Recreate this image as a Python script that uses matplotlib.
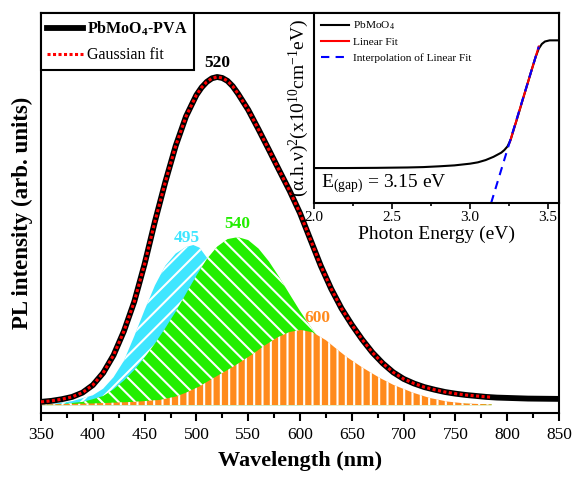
import matplotlib
matplotlib.use("Agg")
import matplotlib.pyplot as plt

# ---------------------------------------------------------------------------
# data
# ---------------------------------------------------------------------------
# PL spectrum of PbMoO4-PVA (arb. units, peak = 1)
plWl = [350, 360, 370, 380, 390, 400, 410, 420, 430, 440, 450, 460, 470, 480,
        490, 500, 505, 510, 515, 520, 525, 530, 535, 540, 550, 560, 570, 580,
        590, 600, 610, 620, 630, 640, 650, 660, 670, 680, 690, 700, 710, 720,
        730, 740, 750, 760, 770, 780, 790, 800, 820, 850]
plVal = [0.010, 0.013, 0.018, 0.025, 0.038, 0.061, 0.098, 0.152, 0.225, 0.315,
         0.43, 0.56, 0.68, 0.79, 0.88, 0.945, 0.968, 0.985, 0.996, 1.0, 0.997,
         0.988, 0.972, 0.95, 0.9, 0.84, 0.778, 0.715, 0.653, 0.585, 0.505,
         0.425, 0.355, 0.295, 0.245, 0.2, 0.16, 0.127, 0.1, 0.08, 0.066,
         0.055, 0.047, 0.04, 0.035, 0.031, 0.028, 0.025, 0.023, 0.022, 0.020,
         0.019]

# Gaussian fit (overlays the spectrum, ends at 785 nm)
fitWl = [350, 360, 370, 380, 390, 400, 410, 420, 430, 440, 450, 460, 470, 480,
         490, 500, 505, 510, 515, 520, 525, 530, 535, 540, 550, 560, 570, 580,
         590, 600, 610, 620, 630, 640, 650, 660, 670, 680, 690, 700, 710, 720,
         730, 740, 750, 760, 770, 785]
fitVal = [0.010, 0.013, 0.018, 0.025, 0.038, 0.061, 0.098, 0.152, 0.225, 0.315,
          0.43, 0.56, 0.68, 0.79, 0.88, 0.945, 0.968, 0.985, 0.996, 1.0, 0.997,
          0.988, 0.972, 0.95, 0.9, 0.84, 0.778, 0.715, 0.653, 0.585, 0.505,
          0.425, 0.355, 0.295, 0.245, 0.2, 0.16, 0.127, 0.1, 0.08, 0.066,
          0.055, 0.047, 0.04, 0.035, 0.031, 0.028, 0.024]

# Gaussian components
cyanWl = [350, 360, 380, 400, 410, 420, 430, 440, 450, 460, 470, 480, 490,
          497, 503, 510, 520, 530, 540, 550, 560, 580, 600]
cyanVal = [0.0, 0.003, 0.012, 0.03, 0.05, 0.085, 0.135, 0.21, 0.29, 0.365,
           0.425, 0.462, 0.482, 0.488, 0.48, 0.45, 0.37, 0.27, 0.17, 0.1,
           0.05, 0.01, 0.0]

greenWl = [350, 370, 390, 400, 410, 420, 430, 440, 450, 460, 470, 480, 490,
           500, 510, 520, 530, 540, 550, 560, 570, 580, 590, 600, 610, 620,
           640, 660, 680, 700, 730, 760, 785]
greenVal = [0.0, 0.003, 0.01, 0.018, 0.028, 0.048, 0.075, 0.107, 0.145,
            0.188, 0.235, 0.285, 0.34, 0.395, 0.445, 0.483, 0.506, 0.512,
            0.503, 0.477, 0.438, 0.39, 0.338, 0.287, 0.24, 0.196, 0.125,
            0.075, 0.043, 0.024, 0.01, 0.004, 0.002]

orangeWl = [350, 400, 440, 465, 480, 490, 503, 515, 530, 540, 555, 565, 578,
            590, 601, 612, 625, 635, 645, 660, 677, 690, 709, 725, 742, 760,
            785]
orangeVal = [0.002, 0.005, 0.01, 0.016, 0.026, 0.038, 0.057, 0.08, 0.107,
             0.126, 0.157, 0.18, 0.206, 0.223, 0.229, 0.222, 0.198, 0.172,
             0.147, 0.115, 0.083, 0.062, 0.038, 0.022, 0.011, 0.005, 0.002]

# peak labels: text, position (nm, value)
peakText = ["520", "495", "540", "600"]
peakWl = [520, 491, 539, 617]
peakVal = [1.043, 0.51, 0.552, 0.265]

# inset: Tauc plot
tEnergy = [2.0, 2.2, 2.4, 2.6, 2.7, 2.8, 2.9, 3.0, 3.05, 3.1, 3.15, 3.2,
           3.22, 3.24, 3.26, 3.28, 3.3, 3.35, 3.4, 3.42, 3.44, 3.46, 3.48,
           3.51, 3.57]
tVal = [0.184, 0.184, 0.185, 0.187, 0.189, 0.193, 0.198, 0.207, 0.214,
        0.226, 0.243, 0.265, 0.279, 0.298, 0.333, 0.387, 0.44, 0.578, 0.715,
        0.768, 0.812, 0.837, 0.85, 0.856, 0.856]
linFitE = [3.255, 3.44]
linFitVal = [0.32, 0.823]
interpE = [3.135, 3.44]
interpVal = [0.0, 0.823]

cyanCol = "#3fe6ff"
greenCol = "#22ee00"
orangeCol = "#ff8a1c"

# ---------------------------------------------------------------------------
# style
# ---------------------------------------------------------------------------
plt.rcParams["font.family"] = ["Liberation Serif", "DejaVu Serif"]
plt.rcParams["mathtext.fontset"] = "custom"
plt.rcParams["mathtext.rm"] = "Liberation Serif"
plt.rcParams["mathtext.default"] = "regular"
plt.rcParams["hatch.linewidth"] = 1.5

fig = plt.figure(figsize=(5.75, 4.83), dpi=100)
ax = fig.add_axes([0.0713, 0.1449, 0.9009, 0.8282])

# components
ax.fill_between(cyanWl, cyanVal, 0, facecolor=cyanCol, edgecolor="white",
                hatch="//", linewidth=0, zorder=1)
ax.fill_between(greenWl, greenVal, 0, facecolor=greenCol, edgecolor="white",
                hatch="\\\\", linewidth=0, zorder=2)
ax.fill_between(orangeWl, orangeVal, 0, facecolor=orangeCol, edgecolor="white",
                hatch="||", linewidth=0, zorder=3)

ax.plot(plWl, plVal, color="black", lw=4.2, label=r"PbMoO$_4$-PVA", zorder=4)
ax.plot(fitWl, fitVal, color="red", lw=2.2, linestyle=(0, (1, 0.8)),
        label="Gaussian fit", zorder=5)

peakCols = ["black", cyanCol, greenCol, orangeCol]
for txt, wl, val, col in zip(peakText, peakWl, peakVal, peakCols):
    ax.text(wl, val, txt, color=col, fontsize=12.5, fontweight="bold",
            ha="center", va="center", zorder=6)

ax.set_xlim(350, 850)
ax.set_ylim(-0.024, 1.195)
ax.set_xticks(range(350, 851, 50))
ax.set_xticks(range(375, 850, 50), minor=True)
ax.set_yticks([])
ax.tick_params(axis="x", which="major", direction="out", length=6, width=1.5,
               labelsize=12.5, pad=4)
ax.tick_params(axis="x", which="minor", direction="out", length=3.5, width=1.5)
for sp in ax.spines.values():
    sp.set_linewidth(1.5)
ax.set_xlabel("Wavelength (nm)", fontsize=16, fontweight="bold", labelpad=6)
ax.set_ylabel("PL intensity (arb. units)", fontsize=16.5, fontweight="bold",
              labelpad=6)

leg = ax.legend(loc="upper left", bbox_to_anchor=(0, 1), borderaxespad=0,
                fancybox=False, edgecolor="black", fontsize=11.5,
                handlelength=2.2, handletextpad=0.3, labelspacing=0.6,
                borderpad=0.4, framealpha=1)
leg.get_frame().set_linewidth(1.5)
leg.get_texts()[0].set_fontweight("bold")

# ---------------------------------------------------------------------------
# inset
# ---------------------------------------------------------------------------
ins = fig.add_axes([0.5461, 0.5797, 0.4261, 0.3934])
ins.plot(tEnergy, tVal, color="black", lw=1.5, label=r"PbMoO$_4$")
ins.plot(linFitE, linFitVal, color="red", lw=1.5, label="Linear Fit")
ins.plot(interpE, interpVal, color="blue", lw=1.5, linestyle=(0, (4, 3)),
         label="Interpolation of Linear Fit")
ins.set_xlim(2.0, 3.57)
ins.set_ylim(0, 1)
ins.set_yticks([])
ins.set_xticks([2.0, 2.5, 3.0, 3.5])
ins.set_xticks([2.25, 2.75, 3.25], minor=True)
ins.tick_params(axis="x", which="major", direction="out", length=4, width=1.2,
                labelsize=11, pad=2)
ins.tick_params(axis="x", which="minor", direction="out", length=2.5,
                width=1.2)
for sp in ins.spines.values():
    sp.set_linewidth(1.5)
ins.set_xlabel("Photon Energy (eV)", fontsize=14, labelpad=1)
ins.set_ylabel(r"(α.h.ν)$^2$(x10$^{10}$cm$^{-1}$eV)", fontsize=14,
               labelpad=2)
ins.text(0.03, 0.1, r"E$_{(gap)}$ = 3.15 eV", transform=ins.transAxes,
         fontsize=14, ha="left", va="center")
ins.legend(loc="upper left", frameon=False, fontsize=8.2, handlelength=2.5,
           handletextpad=0.3, borderaxespad=0.2, labelspacing=0.45)

fig.savefig("out.png", dpi=100)
